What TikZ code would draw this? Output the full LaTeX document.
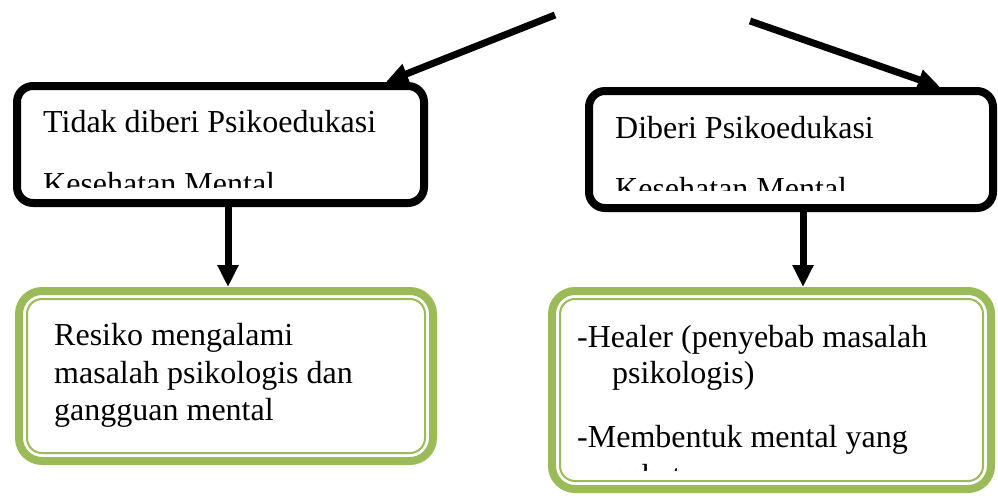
\documentclass[tikz,border=0pt]{standalone}
\usepackage{fontspec}
\setmainfont{Liberation Serif}
\usetikzlibrary{arrows.meta}
\definecolor{hijau}{HTML}{9BBB59}

\begin{document}
\begin{tikzpicture}[x=1pt, y=-1pt,
		kotak/.style={shape=rectangle, draw, line width=8pt, rounded corners=16pt, inner sep=0pt},
		kotakhijau/.style={shape=rectangle, draw=hijau, line width=8pt, rounded corners=23pt, inner sep=0pt},
		garisdalam/.style={draw=hijau, line width=2pt, rounded corners=15pt},
		teks/.style={anchor=base west, inner sep=0pt, font=\fontsize{32}{37}\selectfont},
		panah/.style={-{Triangle[length=22pt, width=20pt]}, line width=7pt}]
			\useasboundingbox (0,0) rectangle (998,495);

			\node[kotak, minimum width=407pt, minimum height=117pt] (tidak) at (220.5,144.5){};
			\node[kotak, minimum width=404pt, minimum height=117pt] (diberi) at (791,149.5){};

			\node[kotakhijau, minimum width=414pt, minimum height=170pt] (resiko) at (226,376){};
			\node[kotakhijau, minimum width=439pt, minimum height=198pt] (healer) at (771.5,390){};
			\draw[garisdalam] ([shift={(12pt,-12pt)}]resiko.north west) rectangle ([shift={(-12pt,12pt)}]resiko.south east);
			\draw[garisdalam] ([shift={(12pt,-12pt)}]healer.north west) rectangle ([shift={(-12pt,12pt)}]healer.south east);

			% teks kotak hitam, baris kedua terpotong
			\begin{scope}
				\clip (20,95) rectangle (420,187);
				\node[teks] (tidak1) at (43,132){Tidak diberi Psikoedukasi};
				\node[teks] (tidak2) at (43,194){Kesehatan Mental};
			\end{scope}
			\begin{scope}
				\clip (595,95) rectangle (990,190);
				\node[teks] (diberi1) at (615,138){Diberi Psikoedukasi};
				\node[teks] (diberi2) at (615,199){Kesehatan Mental};
			\end{scope}

			\node[teks] (resiko1) at (54,345){Resiko mengalami};
			\node[teks] (resiko2) at (54,383){masalah psikologis dan};
			\node[teks] (resiko3) at (54,420){gangguan mental};

			\begin{scope}
				\clip (560,300) rectangle (985,470);
				\node[teks] (healer1) at (577,347){-Healer (penyebab masalah};
				\node[teks] (healer2) at (612,383){psikologis)};
				\node[teks] (healer3) at (577,447){-Membentuk mental yang};
				\node[teks] (healer4) at (615,486){sehat};
			\end{scope}

			\coordinate (atas1) at (555,15);
			\coordinate (atas2) at (750,21);

			\draw[panah] (atas1) to ([xshift=-42pt]tidak.north east);
			\draw[panah] (atas2) to ([xshift=-57pt]diberi.north east);
			\draw[panah] ([xshift=7.5pt]tidak.south) to ([xshift=7.5pt]tidak.south |- resiko.north);
			\draw[panah] ([xshift=12pt]diberi.south) to ([xshift=12pt]diberi.south |- healer.north);
		\end{tikzpicture}
\end{document}
